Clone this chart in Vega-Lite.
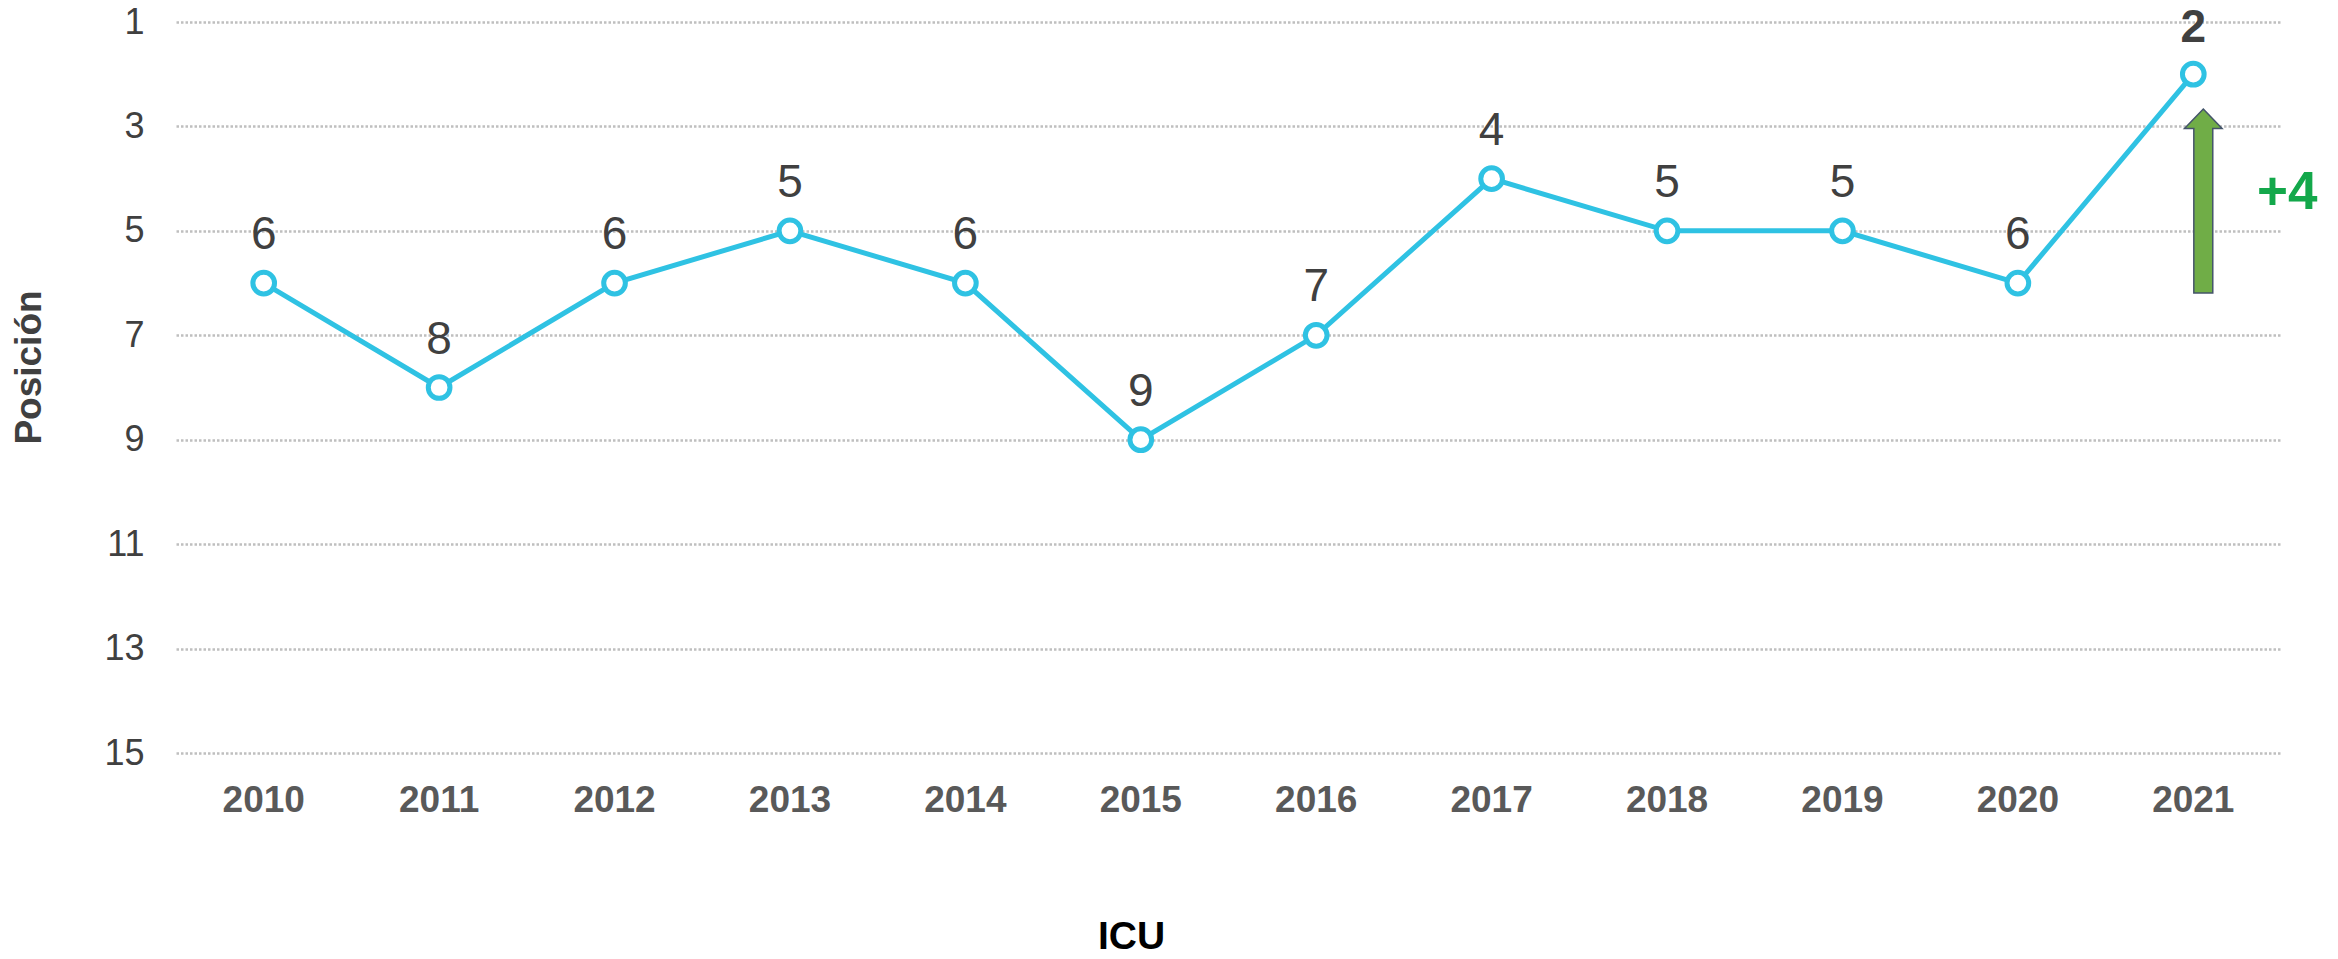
{
  "$schema": "https://vega.github.io/schema/vega-lite/v6.json",
  "autosize": "none",
  "width": 2105,
  "height": 731,
  "padding": {"left": 176, "top": 22, "right": 57, "bottom": 206},
  "background": "white",
  "config": {
    "font": "Liberation Sans",
    "view": {"stroke": null}
  },
  "datasets": {
    "rank": [
      {"year": "2010", "pos": 6},
      {"year": "2011", "pos": 8},
      {"year": "2012", "pos": 6},
      {"year": "2013", "pos": 5},
      {"year": "2014", "pos": 6},
      {"year": "2015", "pos": 9},
      {"year": "2016", "pos": 7},
      {"year": "2017", "pos": 4},
      {"year": "2018", "pos": 5},
      {"year": "2019", "pos": 5},
      {"year": "2020", "pos": 6},
      {"year": "2021", "pos": 2}
    ],
    "change": [
      {"year": "2021", "pos": 4.43, "label": "+4"}
    ]
  },
  "encoding": {
    "x": {
      "field": "year",
      "type": "ordinal",
      "scale": {"type": "band", "paddingInner": 0, "paddingOuter": 0},
      "axis": {
        "title": "ICU",
        "titleFontSize": 39,
        "titleFontWeight": "bold",
        "titleColor": "#000000",
        "titleX": 955,
        "titleY": 195,
        "titleAlign": "center",
        "titleBaseline": "alphabetic",
        "labelAngle": 0,
        "labelFontSize": 37,
        "labelFontWeight": "bold",
        "labelColor": "#595959",
        "labelPadding": 29,
        "ticks": false,
        "domain": false,
        "grid": false
      }
    },
    "y": {
      "field": "pos",
      "type": "quantitative",
      "scale": {"domain": [1, 15], "reverse": true, "nice": false, "zero": false},
      "axis": {
        "title": "Posición",
        "titleFontSize": 37,
        "titleFontWeight": "bold",
        "titleColor": "#404040",
        "titleAngle": -90,
        "titleX": -147,
        "titleY": 345,
        "titleAlign": "center",
        "titleBaseline": "middle",
        "values": [1, 3, 5, 7, 9, 11, 13, 15],
        "labelFontSize": 36,
        "labelColor": "#404040",
        "labelPadding": 32,
        "ticks": false,
        "domain": false,
        "grid": true,
        "gridColor": "#BFBFBF",
        "gridWidth": 2.5,
        "gridDash": [2.5, 2]
      }
    }
  },
  "layer": [
    {
      "data": {"name": "rank"},
      "mark": {"type": "line", "color": "#2FC2E3", "strokeWidth": 5}
    },
    {
      "data": {"name": "rank"},
      "mark": {"type": "point", "shape": "circle", "filled": true, "fill": "#FFFFFF", "stroke": "#2FC2E3", "strokeWidth": 5, "size": 470, "opacity": 1}
    },
    {
      "data": {"name": "rank"},
      "transform": [{"filter": "datum.year != '2021'"}],
      "mark": {"type": "text", "fontSize": 46, "color": "#404040", "baseline": "alphabetic", "dy": -34},
      "encoding": {"text": {"field": "pos", "type": "quantitative"}}
    },
    {
      "data": {"name": "rank"},
      "transform": [{"filter": "datum.year == '2021'"}],
      "mark": {"type": "text", "fontSize": 46, "fontWeight": "bold", "color": "#404040", "baseline": "alphabetic", "dy": -32},
      "encoding": {"text": {"field": "pos", "type": "quantitative"}}
    },
    {
      "data": {"name": "change"},
      "mark": {
        "type": "point",
        "shape": "M 0 -1 L 0.204 -0.79 L 0.103 -0.79 L 0.103 1 L -0.103 1 L -0.103 -0.79 L -0.204 -0.79 Z",
        "filled": true,
        "fill": "#70AD47",
        "stroke": "#44546A",
        "strokeWidth": 1.5,
        "size": 33856,
        "opacity": 1,
        "xOffset": 10
      }
    },
    {
      "data": {"name": "change"},
      "mark": {"type": "text", "fontSize": 53, "fontWeight": "bold", "color": "#13A84B", "baseline": "alphabetic", "dx": 94, "dy": 8},
      "encoding": {"text": {"field": "label"}}
    }
  ]
}
